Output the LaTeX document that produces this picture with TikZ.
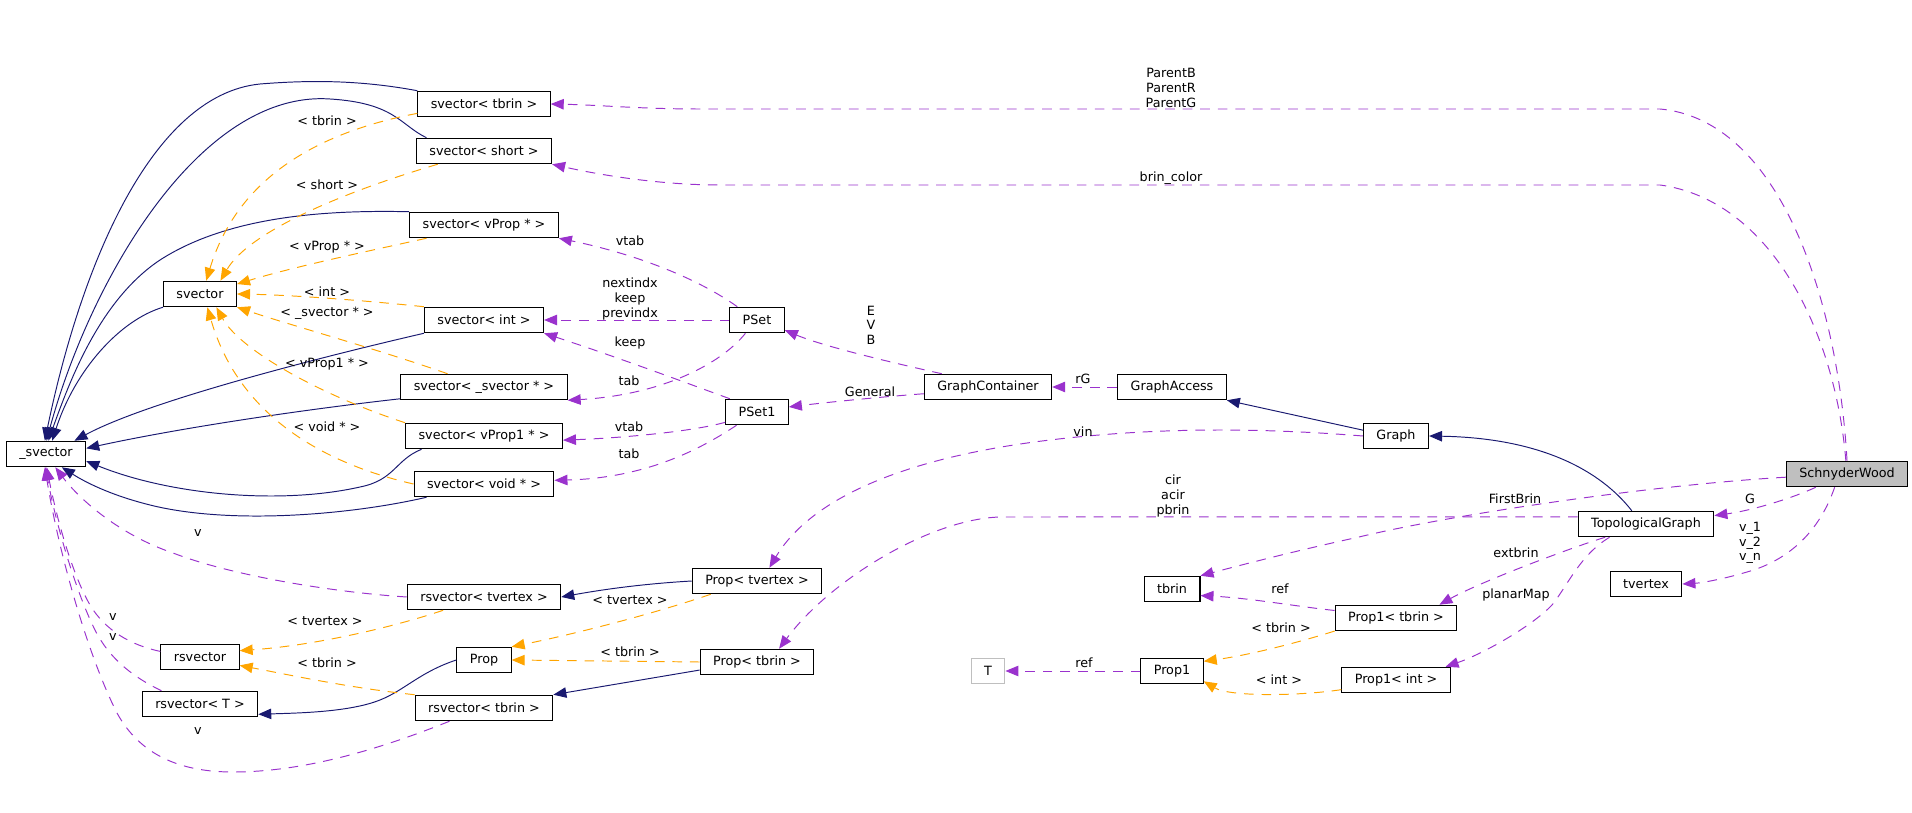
\documentclass[tikz,border=0pt]{standalone}
\usepackage{fontspec}
\setmainfont{DejaVu Sans}
\usepackage{tikz}
\usetikzlibrary{arrows.meta}

\definecolor{inhblue}{HTML}{191970}
\definecolor{usepurple}{HTML}{9A32CD}
\definecolor{tplorange}{HTML}{FFA500}
\definecolor{maingray}{HTML}{BFBFBF}

\begin{document}
\begin{tikzpicture}[x=0.02cm,y=-0.02cm,>={Triangle[length=2.6mm,width=2.1mm]},
  cls/.style={draw,fill=white,line width=0.6pt,inner xsep=0.26cm,inner ysep=0pt,minimum height=0.51cm,font=\fontsize{7.25}{8.3}\selectfont},
  lbl/.style={inner sep=0pt,align=center,font=\fontsize{7.25}{8.3}\selectfont},
  inherit/.style={->,inhblue,line width=0.55pt},
  tmpl/.style={->,tplorange,dash pattern=on 5.5pt off 4.5pt,line width=0.55pt},
  member/.style={->,usepurple,dash pattern=on 5.5pt off 4.5pt,line width=0.55pt}]
  \useasboundingbox (0,0) rectangle (1912,813);
  % classes
  \node[cls] (svtbrin) at (484,104) {svector< tbrin >};
  \node[cls] (svshort) at (484,151) {svector< short >};
  \node[cls] (svvprop) at (484,225) {svector< vProp * >};
  \node[cls] (svector) at (200,294) {svector};
  \node[cls] (svint) at (484,320) {svector< int >};
  \node[cls] (svsvector) at (484,387) {svector< \_svector * >};
  \node[cls] (svvprop1) at (484,436) {svector< vProp1 * >};
  \node[cls] (svvoid) at (484,484) {svector< void * >};
  \node[cls] (svbase) at (46,454) {\_svector};
  \node[cls] (rsvtvertex) at (484,597) {rsvector< tvertex >};
  \node[cls] (rsvector) at (200,657) {rsvector};
  \node[cls] (prop) at (484,660) {Prop};
  \node[cls] (rsvT) at (200,704) {rsvector< T >};
  \node[cls] (rsvtbrin) at (484,708) {rsvector< tbrin >};
  \node[cls] (pset) at (757,320) {PSet};
  \node[cls] (pset1) at (757,412) {PSet1};
  \node[cls] (gcont) at (988,387) {GraphContainer};
  \node[cls] (gaccess) at (1172,387) {GraphAccess};
  \node[cls] (grph) at (1396,436) {Graph};
  \node[cls] (proptvertex) at (757,581) {Prop< tvertex >};
  \node[cls] (proptbrin) at (757,662) {Prop< tbrin >};
  \node[cls,fill=maingray] (schnyder) at (1847,474) {SchnyderWood};
  \node[cls] (topo) at (1646,524) {TopologicalGraph};
  \node[cls] (tbrin) at (1172,589) {tbrin};
  \node[cls] (tvertex) at (1646,584) {tvertex};
  \node[cls] (prop1tbrin) at (1396,618) {Prop1< tbrin >};
  \node[cls,draw=maingray] (T) at (988,671) {T};
  \node[cls] (prop1) at (1172,671) {Prop1};
  \node[cls] (prop1int) at (1396,680) {Prop1< int >};

  % inheritance
  \draw[inherit] (svtbrin.north west) .. controls (360,80) and (310,80) .. (260,84) .. controls (150,95) and (80,270) .. (svbase.95);
  \draw[inherit] (svshort.167) .. controls (400,125) and (395,103) .. (330,99) .. controls (200,90) and (90,280) .. (svbase.88);
  \draw[inherit] (svvprop.north west) .. controls (330,210) and (230,215) .. (160,260) .. controls (100,300) and (70,380) .. (svbase.80);
  \draw[inherit] (svector.south west) .. controls (120,320) and (75,370) .. (svbase.65);
  \draw[inherit] (svint.south west) .. controls (330,355) and (150,400) .. (svbase.25);
  \draw[inherit] (svsvector.-172) .. controls (300,410) and (180,428) .. (svbase.8);
  \draw[inherit] (svvprop1.-168) .. controls (395,460) and (395,480) .. (360,487) .. controls (280,505) and (170,495) .. (svbase.-10);
  \draw[inherit] (svvoid.-167) .. controls (350,515) and (230,525) .. (150,505) .. controls (110,495) and (85,482) .. (svbase.-40);
  \draw[inherit] (proptvertex.west) .. controls (640,584) and (600,590) .. (rsvtvertex.east);
  \draw[inherit] (proptbrin.-172) -- (rsvtbrin.north east);
  \draw[inherit] (prop.west) .. controls (420,672) and (405,690) .. (380,700) .. controls (350,712) and (300,713) .. (rsvT.-10);
  \draw[inherit] (grph.170) -- (gaccess.south east);
  \draw[inherit] (topo.137) .. controls (1600,470) and (1540,438) .. (grph.east);

  % template instances
  \draw[tmpl] (svtbrin.-172) .. controls (330,130) and (240,170) .. (svector.65);
  \draw[tmpl] (svshort.-164) .. controls (350,190) and (250,230) .. (svector.33);
  \draw[tmpl] (svvprop.-167) .. controls (350,255) and (290,268) .. (svector.15);
  \draw[tmpl] (svint.north west) .. controls (360,300) and (290,295) .. (svector.east);
  \draw[tmpl] (svsvector.160) .. controls (380,350) and (290,325) .. (svector.south east);
  \draw[tmpl] (svvprop1.north west) .. controls (320,395) and (240,350) .. (svector.-39);
  \draw[tmpl] (svvoid.west) .. controls (330,465) and (240,420) .. (svector.-61);
  \draw[tmpl] (rsvtvertex.-162) .. controls (400,625) and (320,645) .. (rsvector.9);
  \draw[tmpl] (rsvtbrin.north west) .. controls (350,688) and (290,675) .. (rsvector.-12);
  \draw[tmpl] (proptvertex.-164) .. controls (650,615) and (570,635) .. (prop.north east);
  \draw[tmpl] (proptbrin.west) -- (prop.east);
  \draw[tmpl] (prop1tbrin.-168) .. controls (1300,642) and (1250,655) .. (prop1.17);
  \draw[tmpl] (prop1int.-170) .. controls (1300,696) and (1230,697) .. (prop1.-18);

  \node[lbl] (l1) at (327,121) {< tbrin >};
  \node[lbl] (l2) at (327,185) {< short >};
  \node[lbl] (l3) at (327,247) {< vProp * >};
  \node[lbl] (l4) at (327,292) {< int >};
  \node[lbl] (l5) at (327,313) {< \_svector * >};
  \node[lbl] (l6) at (327,364) {< vProp1 * >};
  \node[lbl] (l7) at (327,427) {< void * >};
  \node[lbl] (l8) at (325,621) {< tvertex >};
  \node[lbl] (l9) at (327,663) {< tbrin >};
  \node[lbl] (l10) at (630,600) {< tvertex >};
  \node[lbl] (l11) at (630,652) {< tbrin >};
  \node[lbl] (l12) at (1281,628) {< tbrin >};
  \node[lbl] (l13) at (1279,680) {< int >};

  % members
  \draw[member] (schnyder.north) .. controls (1838,300) and (1780,120) .. (1660,109) -- (700,109) .. controls (640,109) and (600,105) .. (svtbrin.east);
  \draw[member] (schnyder.95) .. controls (1835,330) and (1770,200) .. (1660,185) -- (720,185) .. controls (660,185) and (600,175) .. (svshort.south east);
  \draw[member] (pset.146) .. controls (700,280) and (640,255) .. (svvprop.south east);
  \draw[member] (pset.west) -- (svint.east);
  \draw[member] (pset1.154) .. controls (700,388) and (620,358) .. (svint.south east);
  \draw[member] (pset.-131) .. controls (720,365) and (660,395) .. (svsvector.south east);
  \draw[member] (pset1.-162) .. controls (690,432) and (620,438) .. (svvprop1.-3);
  \draw[member] (pset1.-147) .. controls (705,446) and (650,478) .. (svvoid.3);
  \draw[member] (gcont.164) .. controls (880,360) and (820,345) .. (pset.-20);
  \draw[member] (gcont.-174) .. controls (880,397) and (830,402) .. (pset1.9);
  \draw[member] (gaccess.west) -- (gcont.east);
  \draw[member] (grph.west) .. controls (1250,427) and (1150,428) .. (1050,440) .. controls (900,458) and (810,500) .. (proptvertex.47);
  \draw[member] (topo.174) -- (1000,517) .. controls (930,519) and (830,580) .. (proptbrin.31);
  \draw[member] (schnyder.-177) .. controls (1650,485) and (1450,515) .. (1359,537) .. controls (1290,552) and (1230,568) .. (tbrin.north east);
  \draw[member] (prop1tbrin.173) .. controls (1300,607) and (1250,598) .. (tbrin.-13);
  \draw[member] (topo.-162) .. controls (1570,548) and (1480,582) .. (prop1tbrin.17);
  \draw[member] (topo.-160) .. controls (1580,555) and (1568,585) .. (1552,605) .. controls (1530,628) and (1480,655) .. (prop1int.15);
  \draw[member] (schnyder.-157) .. controls (1795,497) and (1755,510) .. (topo.7);
  \draw[member] (schnyder.-133) .. controls (1820,530) and (1790,560) .. (1747,572) .. controls (1720,580) and (1700,583) .. (tvertex.east);
  \draw[member] (prop1.west) -- (T.east);
  \draw[member] (rsvtvertex.west) .. controls (330,592) and (230,575) .. (173,553) .. controls (120,535) and (80,500) .. (svbase.-55);
  \draw[member] (rsvector.172) .. controls (130,645) and (105,630) .. (90,605) .. controls (70,570) and (55,510) .. (svbase.-87);
  \draw[member] (rsvT.161) .. controls (135,678) and (110,660) .. (95,630) .. controls (75,590) and (55,520) .. (svbase.-92);
  \draw[member] (rsvtbrin.-159) .. controls (390,745) and (310,772) .. (233,772) .. controls (180,772) and (140,755) .. (117,713) .. controls (90,660) and (60,560) .. (svbase.-95);

  \node[lbl] (m1) at (1171,88) {ParentB\\ParentR\\ParentG};
  \node[lbl] (m2) at (1171,178) {brin\_color};
  \node[lbl] (m3) at (630,241) {vtab};
  \node[lbl] (m4) at (630,299) {nextindx\\keep\\previndx};
  \node[lbl] (m5) at (630,343) {keep};
  \node[lbl] (m6) at (629,381) {tab};
  \node[lbl] (m7) at (629,427) {vtab};
  \node[lbl] (m8) at (629,454) {tab};
  \node[lbl] (m9) at (871,325) {E\\V\\B};
  \node[lbl] (m10) at (870,392) {General};
  \node[lbl] (m11) at (1083,379) {rG};
  \node[lbl] (m12) at (1083,432) {vin};
  \node[lbl] (m13) at (1173,496) {cir\\acir\\pbrin};
  \node[lbl] (m14) at (1515,499) {FirstBrin};
  \node[lbl] (m15) at (1750,499) {G};
  \node[lbl] (m16) at (1750,543) {v\_1\\v\_2\\v\_n};
  \node[lbl] (m17) at (1516,553) {extbrin};
  \node[lbl] (m18) at (1280,589) {ref};
  \node[lbl] (m19) at (1516,595) {planarMap};
  \node[lbl] (m20) at (1084,663) {ref};
  \node[lbl] (m21) at (198,533) {v};
  \node[lbl] (m22) at (113,617) {v};
  \node[lbl] (m23) at (113,637) {v};
  \node[lbl] (m24) at (198,731) {v};
\end{tikzpicture}
\end{document}
